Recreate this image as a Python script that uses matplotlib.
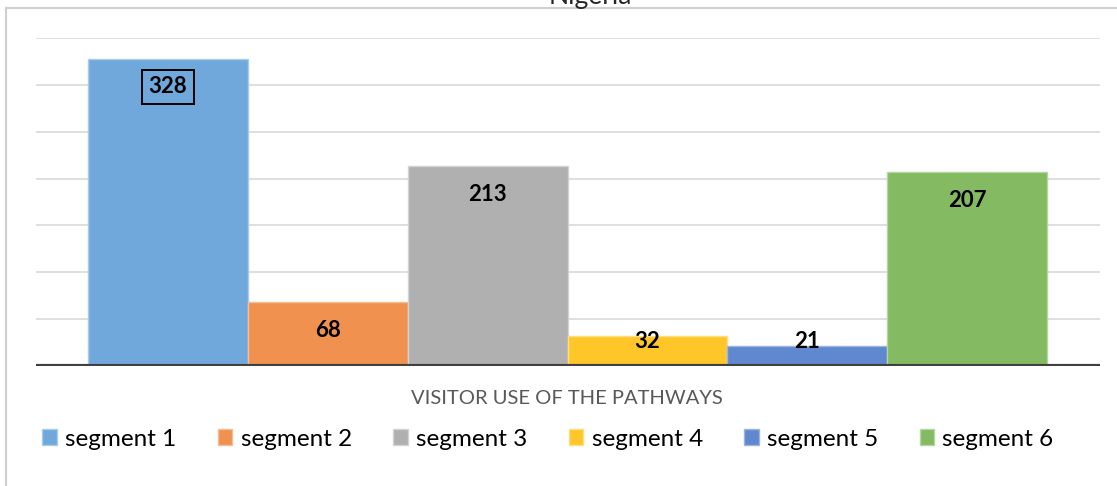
import matplotlib.pyplot as plt
from matplotlib.patches import Rectangle, Patch

plt.rcParams['font.family'] = ['Lato', 'DejaVu Sans']

# data
segments = ['segment 1', 'segment 2', 'segment 3', 'segment 4', 'segment 5', 'segment 6']
visitors = [328, 68, 213, 32, 21, 207]
colors = ['#71A8DC', '#F0914F', '#B0B0B0', '#FFC629', '#5F88CE', '#84BA62']
edges = ['#A9CCEC', '#F6BE97', '#D3D3D3', '#FFDD80', '#9BB5E2', '#B3D59E']

fig = plt.figure(figsize=(11.17, 4.86), dpi=100)

# outer chart border
fig.patches.append(Rectangle((6 / 1117, -0.05), 1.2, 1.05 - 8 / 486, transform=fig.transFigure,
                             fill=False, edgecolor='#CFCFCF', linewidth=1.5))
fig.text(590 / 1117, 1 - 4 / 486, 'Nigeria', ha='center', va='baseline', fontsize=19, color='#262626')

ax = fig.add_axes([36 / 1117, 120 / 486, 1064 / 1117, 328 / 486])
x = list(range(len(visitors)))
ax.bar(x, visitors, width=1.0, color=colors, edgecolor=edges, linewidth=1, zorder=2)

for i, v in enumerate(visitors):
    ly = max(v - 30, 26.5)
    kw = {}
    if i == 0:
        kw['bbox'] = dict(boxstyle='square,pad=0.3', facecolor='none', edgecolor='black', linewidth=1.4)
    ax.text(i, ly, str(v), ha='center', va='center', fontsize=16, fontweight='bold', color='black',
            zorder=3, **kw)

ax.set_ylim(0, 350)
ax.set_xlim(-0.825, 5.83)
ax.set_yticks(range(0, 351, 50))
ax.set_yticklabels([])
ax.set_xticks([])
ax.tick_params(length=0)
ax.grid(axis='y', color='#D9D9D9', linewidth=1.2, zorder=0)
ax.set_axisbelow(True)
for s in ax.spines.values():
    s.set_visible(False)
ax.axhline(0, color='#404040', linewidth=3, zorder=4)

fig.text(567 / 1117, 1 - 398 / 486, 'VISITOR USE OF THE PATHWAYS', ha='center', va='center',
         fontsize=14.5, color='#595959')

handles = [Patch(facecolor=c, edgecolor=e, label=s) for c, e, s in zip(colors, edges, segments)]
fig.legend(handles=handles, loc='center', bbox_to_anchor=(548 / 1117, 1 - 439 / 486), ncol=6,
           frameon=False, fontsize=17.5, handlelength=0.6, handleheight=0.6, handletextpad=0.34,
           columnspacing=1.7)

fig.savefig('out.png', dpi=100)
